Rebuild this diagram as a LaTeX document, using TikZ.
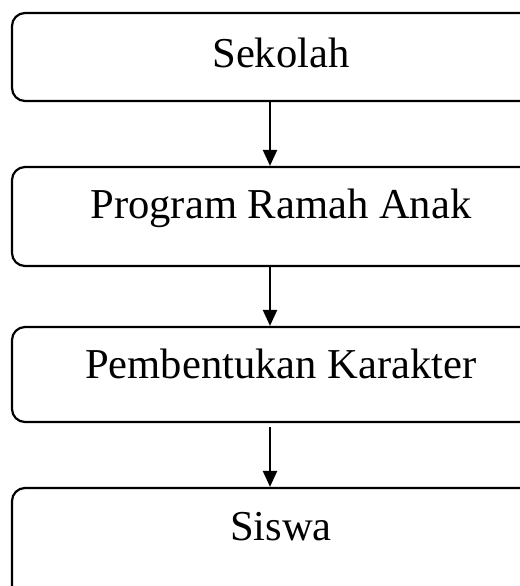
\documentclass[tikz,border=0pt]{standalone}
\usepackage{fontspec}
\setmainfont{Liberation Serif}
\usetikzlibrary{arrows.meta}
\tikzset{box/.style = {draw, rounded corners = 6.5pt, line width = 1.1pt, inner sep = 0, minimum width = 269pt, anchor = base, font = \fontsize{21.3}{25}\selectfont}}
\tikzset{flow/.style = {-{Triangle[width = 7pt, length = 8pt]}, line width = 1.1pt}}

\begin{document}
\begin{tikzpicture}[x = 0.5pt, y = -0.5pt]
      \useasboundingbox (0, 0) rectangle (520, 586);
      \clip (0, 0) rectangle (520, 586);
      \node [box, text height = 27pt, text depth = 17pt] (sekolah) at (281, 67) {Sekolah};
      \node [box, text height = 25.5pt, text depth = 24pt] (program) at (281, 218) {Program Ramah Anak};
      \node [box, text height = 25.5pt, text depth = 22pt] (karakter) at (281, 378) {Pembentukan Karakter};
      \node [box, text height = 26pt, text depth = 30pt] (siswa) at (281, 540) {Siswa};
      \coordinate (axis) at (270, 0);
      \draw [flow] (sekolah.south -| axis) -- (program.north -| axis);
      \draw [flow] (program.south -| axis) -- (karakter.north -| axis);
      \draw [flow, shorten <= 2pt] (karakter.south -| axis) -- (siswa.north -| axis);
    \end{tikzpicture}
\end{document}
